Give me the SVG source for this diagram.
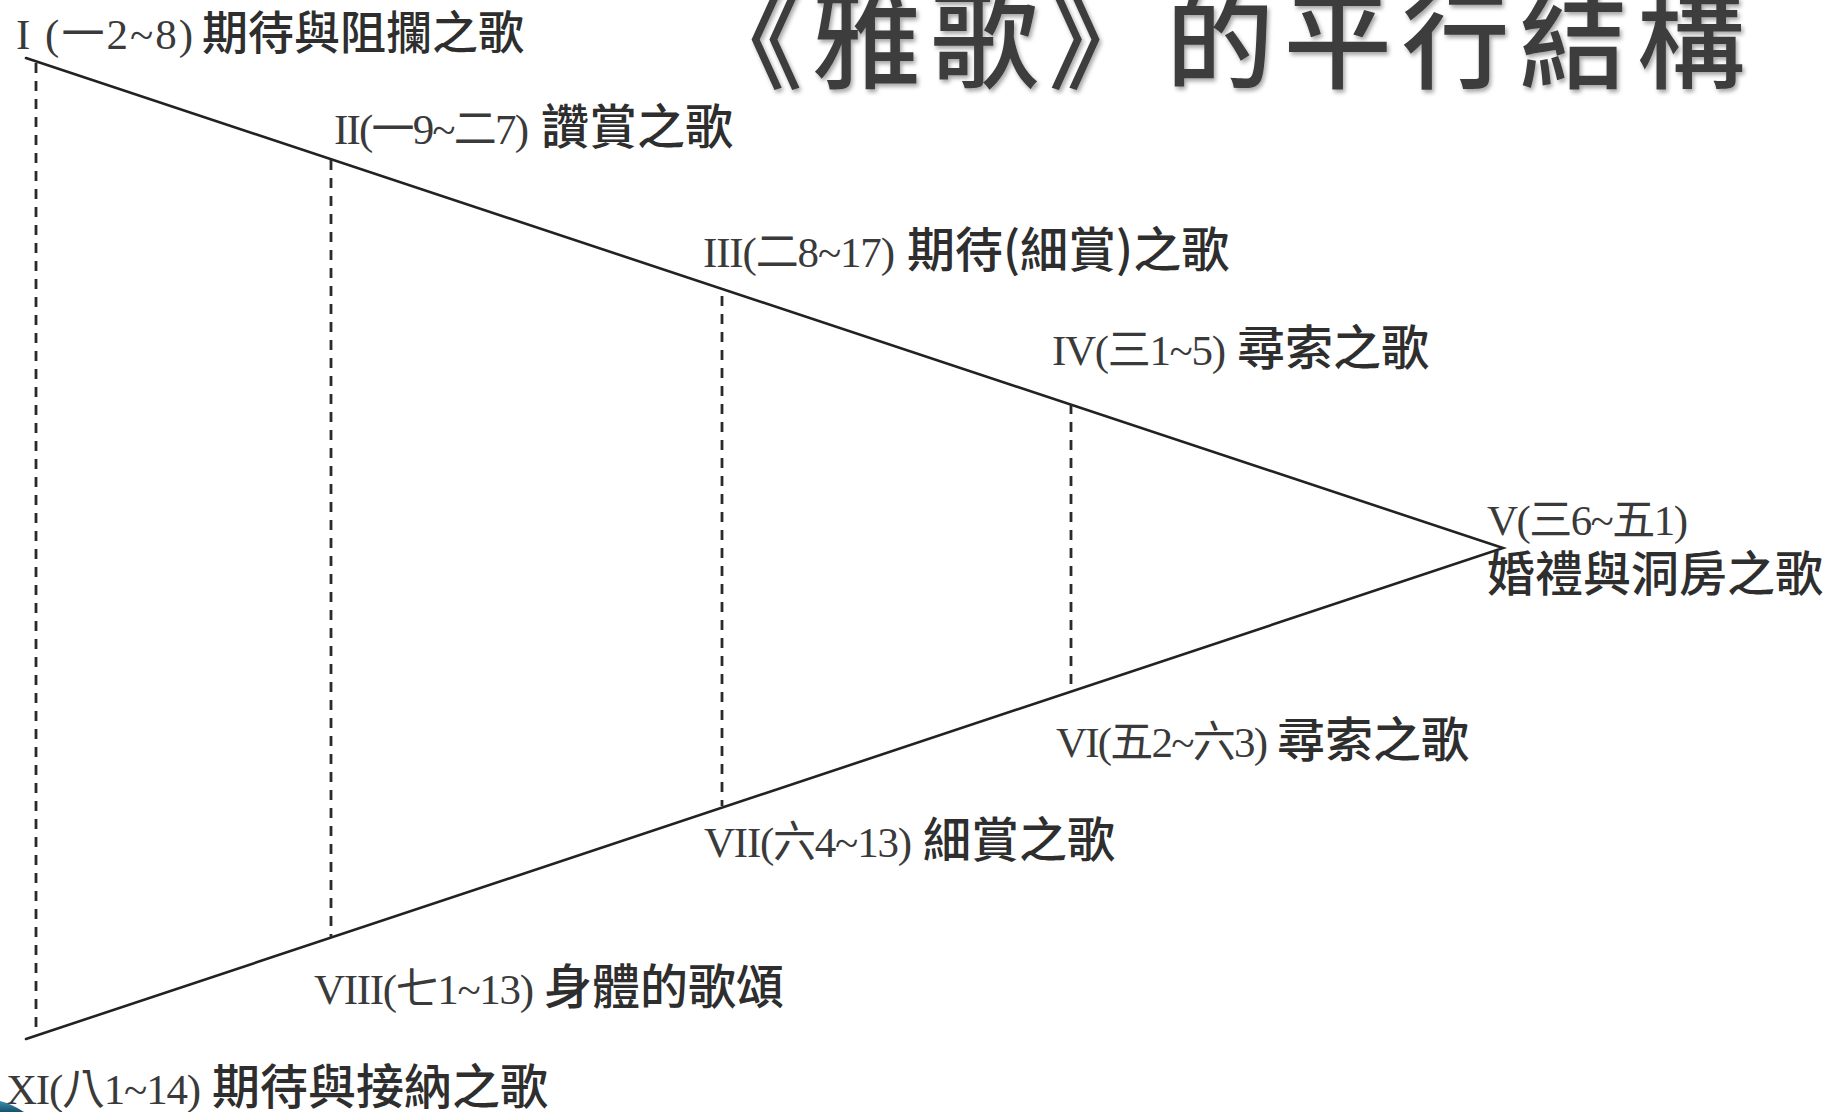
<svg xmlns="http://www.w3.org/2000/svg" width="1835" height="1112" viewBox="0 0 1835 1112">
<defs>
<style>
.ser{font-family:"Liberation Serif","Noto Sans CJK TC",serif;font-size:43px;fill:#3a3a3a}
.cjk{font-family:"Noto Sans CJK TC",sans-serif;font-size:48px;font-weight:500;fill:#2e2e2e}
.solid{stroke:#222;stroke-width:2.6;fill:none;stroke-linecap:round}
.dash{stroke:#2a2a2a;stroke-width:2.8;fill:none;stroke-dasharray:10 8}
.title{font-family:"Noto Sans CJK TC",sans-serif;font-size:108px;font-weight:500;fill:#3c3c3c}
</style>
<filter id="sh" x="-5%" y="-20%" width="110%" height="140%">
<feDropShadow dx="2" dy="3" stdDeviation="2" flood-color="#000" flood-opacity="0.35"/>
</filter>
<linearGradient id="teal" x1="0" y1="0" x2="0" y2="1">
<stop offset="0" stop-color="#3a8fb0"/>
<stop offset="1" stop-color="#15506a"/>
</linearGradient>
</defs>
<rect width="1835" height="1112" fill="#fff"/>
<g id="title">
<text class="title" x="695" y="80" textLength="1050" filter="url(#sh)">《雅歌》的平行結構</text>
</g>
<g id="connectors">
<polyline class="solid" points="26,58 1503,548 26,1039"/>
<line class="dash" x1="36" y1="63" x2="36" y2="1032"/>
<line class="dash" x1="331" y1="160" x2="331" y2="938"/>
<line class="dash" x1="722" y1="296" x2="722" y2="806"/>
<line class="dash" x1="1071" y1="404" x2="1071" y2="691"/>
</g>
<g id="n1"><text class="ser" x="16" y="49" textLength="177">I (一2~8)</text><text class="cjk" x="202" y="49" style="font-size:46px">期待與阻攔之歌</text></g>
<g id="n2"><text class="ser" x="334" y="144" textLength="195">II(一9~二7)</text><text class="cjk" x="541" y="144">讚賞之歌</text></g>
<g id="n3"><text class="ser" x="703" y="267" textLength="192">III(二8~17)</text><text class="cjk" x="907" y="267">期待(細賞)之歌</text></g>
<g id="n4"><text class="ser" x="1052" y="365" textLength="174">IV(三1~5)</text><text class="cjk" x="1237" y="365">尋索之歌</text></g>
<g id="n5"><text class="ser" x="1487" y="535" textLength="201">V(三6~五1)</text><text class="cjk" x="1487" y="591">婚禮與洞房之歌</text></g>
<g id="n6"><text class="ser" x="1056" y="757" textLength="212">VI(五2~六3)</text><text class="cjk" x="1277" y="757">尋索之歌</text></g>
<g id="n7"><text class="ser" x="704" y="857" textLength="208">VII(六4~13)</text><text class="cjk" x="923" y="857">細賞之歌</text></g>
<g id="n8"><text class="ser" x="314" y="1004" textLength="220">VIII(七1~13)</text><text class="cjk" x="544" y="1004">身體的歌頌</text></g>
<g id="n9"><text class="ser" x="6" y="1104" textLength="195">XI(八1~14)</text><text class="cjk" x="212" y="1104">期待與接納之歌</text></g>
<path d="M0,1101 Q12,1104 24,1112 L0,1112 Z" fill="url(#teal)"/>
</svg>
